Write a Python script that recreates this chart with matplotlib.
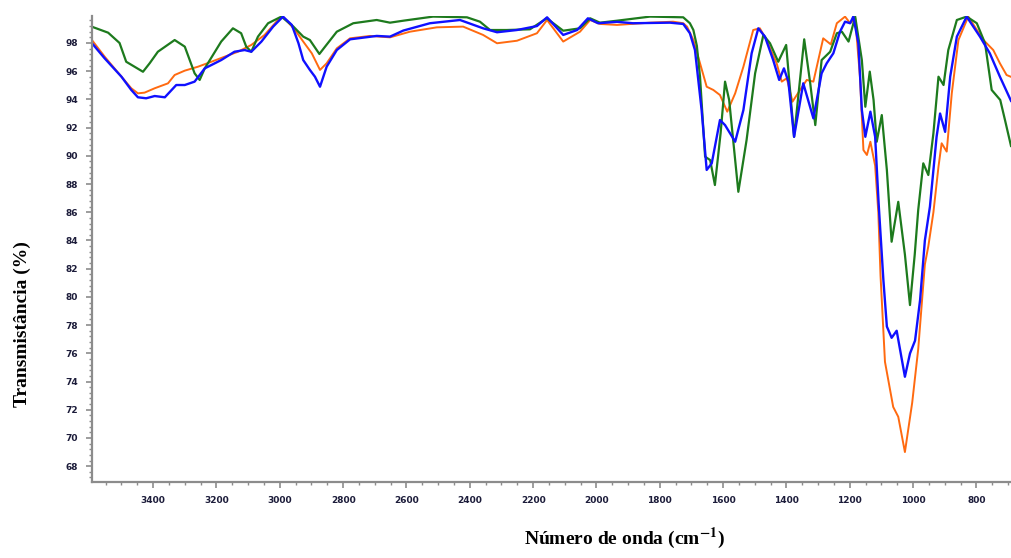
import matplotlib
matplotlib.use("Agg")
import matplotlib.pyplot as plt
from matplotlib.ticker import MultipleLocator

# wavenumber (cm-1) / transmittance (%)
wn_green = [3593, 3542, 3506, 3485, 3432, 3411, 3385, 3332, 3300, 3269, 3253, 3237,
            3185, 3148, 3122, 3106, 3090, 3069, 3037, 2995, 2957, 2926, 2905, 2875,
            2857, 2820, 2768, 2694, 2652, 2610, 2516, 2409, 2368, 2336, 2283, 2210,
            2157, 2105, 2052, 2020, 1989, 1935, 1831, 1726, 1705, 1694, 1683, 1673,
            1657, 1641, 1626, 1608, 1594, 1581, 1552, 1526, 1499, 1473, 1452, 1426,
            1401, 1376, 1344, 1325, 1309, 1289, 1262, 1241, 1225, 1204, 1183, 1162,
            1151, 1137, 1125, 1115, 1099, 1083, 1068, 1047, 1026, 1010, 995, 984,
            968, 952, 936, 920, 904, 889, 862, 831, 799, 773, 752, 725, 710, 691]
t_green = [99.15, 98.73, 98.0, 96.67, 95.96, 96.56, 97.38, 98.21, 97.74, 95.85, 95.38, 96.2,
           98.1, 99.04, 98.69, 97.74, 97.38, 98.45, 99.4, 99.87, 99.16, 98.45, 98.21, 97.22,
           97.74, 98.8, 99.4, 99.63, 99.44, 99.58, 99.87, 99.82, 99.51, 98.92, 98.92, 98.97,
           99.75, 98.87, 99.04, 99.75, 99.44, 99.58, 99.87, 99.82, 99.4, 98.92, 97.8, 95.6,
           89.94, 89.7, 87.93, 91.6, 95.26, 93.96, 87.45, 91.12, 95.85, 98.57, 97.98, 96.67,
           97.86, 91.35, 98.26, 95.14, 92.18, 96.79, 97.38, 98.69, 98.8, 98.1, 99.87, 96.79,
           93.48, 95.97, 93.96, 91.0, 92.89, 89.0, 83.91, 86.74, 83.0, 79.42, 83.0, 86.16,
           89.47, 88.64, 91.6, 95.61, 95.02, 97.5, 99.63, 99.87, 99.4, 97.98, 94.67, 93.96, 92.54, 90.7]

wn_blue = [3593, 3553, 3500, 3469, 3448, 3422, 3395, 3363, 3327, 3300, 3269, 3237,
           3185, 3143, 3111, 3090, 3058, 3021, 2990, 2962, 2941, 2926, 2905, 2889,
           2873, 2852, 2820, 2778, 2694, 2652, 2610, 2526, 2431, 2358, 2314, 2251,
           2188, 2156, 2105, 2061, 2027, 1995, 1935, 1885, 1768, 1726, 1705, 1689,
           1668, 1652, 1636, 1610, 1594, 1562, 1536, 1510, 1489, 1468, 1442, 1423,
           1408, 1394, 1376, 1347, 1315, 1289, 1273, 1252, 1231, 1215, 1199, 1189,
           1173, 1162, 1151, 1135, 1120, 1109, 1094, 1083, 1068, 1052, 1026, 1010,
           994, 978, 963, 947, 926, 915, 899, 883, 862, 831, 789, 758, 726, 691]
t_blue = [97.98, 96.91, 95.61, 94.67, 94.15, 94.08, 94.24, 94.15, 95.02, 95.02, 95.26, 96.2,
          96.79, 97.38, 97.5, 97.38, 98.1, 99.16, 99.87, 99.28, 97.98, 96.79, 96.09, 95.61,
          94.9, 96.32, 97.5, 98.26, 98.5, 98.45, 98.88, 99.4, 99.63, 99.04, 98.76, 98.92,
          99.2, 99.82, 98.57, 98.92, 99.75, 99.4, 99.5, 99.4, 99.44, 99.35, 98.69, 97.5,
          93.25, 89.0, 89.47, 92.54, 92.18, 91.0, 93.25, 97.27, 99.04, 98.45, 96.79, 95.38,
          96.2, 95.26, 91.35, 95.14, 92.66, 95.85, 96.56, 97.27, 98.8, 99.51, 99.4, 99.87,
          97.98, 93.25, 91.35, 93.13, 91.35, 86.63, 81.2, 77.9, 77.1, 77.6, 74.34, 75.99,
          76.9, 79.8, 84.0, 86.4, 91.35, 93.0, 91.7, 95.61, 98.45, 99.87, 98.45, 97.27, 95.61, 93.9]

wn_orange = [3593, 3553, 3500, 3469, 3448, 3427, 3395, 3353, 3332, 3300, 3258, 3216,
             3174, 3132, 3090, 3048, 3006, 2990, 2952, 2926, 2899, 2873, 2852, 2820,
             2778, 2715, 2652, 2589, 2504, 2421, 2358, 2314, 2251, 2188, 2156, 2105,
             2052, 2020, 1989, 1935, 1831, 1758, 1726, 1714, 1694, 1673, 1652, 1631,
             1610, 1587, 1562, 1536, 1505, 1484, 1463, 1431, 1415, 1399, 1381, 1357,
             1336, 1315, 1284, 1260, 1241, 1215, 1199, 1183, 1168, 1157, 1146, 1135,
             1120, 1110, 1103, 1089, 1063, 1047, 1026, 1003, 984, 963, 952, 936,
             920, 910, 894, 878, 857, 826, 778, 747, 726, 705, 691]
t_orange = [98.2, 97.03, 95.61, 94.79, 94.43, 94.48, 94.79, 95.14, 95.73, 96.04, 96.32, 96.67,
            97.03, 97.38, 97.86, 98.57, 99.63, 99.87, 98.92, 98.1, 97.27, 96.09, 96.56, 97.62,
            98.33, 98.5, 98.4, 98.8, 99.11, 99.16, 98.57, 97.98, 98.16, 98.69, 99.63, 98.1,
            98.8, 99.63, 99.35, 99.28, 99.44, 99.51, 99.4, 99.16, 98.21, 96.56, 94.9, 94.67,
            94.31, 93.13, 94.43, 96.32, 98.92, 99.04, 98.21, 96.56, 95.26, 95.5, 93.84, 94.67,
            95.38, 95.26, 98.33, 97.9, 99.4, 99.87, 99.4, 99.75, 95.61, 90.41, 90.06, 91.0,
            89.3, 86.0, 81.5, 75.4, 72.2, 71.5, 69.0, 72.5, 76.3, 82.3, 83.6, 86.0,
            89.23, 90.89, 90.3, 94.43, 98.21, 99.87, 98.21, 97.5, 96.56, 95.73, 95.6]

plt.rcParams['mathtext.fontset'] = 'stix'

fig = plt.figure(figsize=(10.11, 5.58), dpi=100)
ax = fig.add_axes([0.091, 0.136, 0.909, 0.835])

ax.plot(wn_orange, t_orange, color='#ff6a10', lw=1.4, solid_joinstyle='round')
ax.plot(wn_green, t_green, color='#1d7a1d', lw=1.6, solid_joinstyle='round')
ax.plot(wn_blue, t_blue, color='#1010ff', lw=1.7, solid_joinstyle='round')

ax.set_xlim(3593, 691)
ax.set_ylim(66.87, 99.9)

ax.xaxis.set_major_locator(MultipleLocator(200))
ax.xaxis.set_minor_locator(MultipleLocator(50))
ax.yaxis.set_major_locator(MultipleLocator(2))
ax.yaxis.set_minor_locator(MultipleLocator(0.4))

for s in ['top', 'right']:
    ax.spines[s].set_visible(False)
for s in ['left', 'bottom']:
    ax.spines[s].set_color('#8c8c8c')
    ax.spines[s].set_linewidth(1.6)

ax.tick_params(axis='both', which='both', color='#8c8c8c', direction='out')
ax.tick_params(axis='both', which='major', length=4, width=1.2,
               labelsize=6.5, labelcolor='#1c1c3a', pad=6)
ax.tick_params(axis='both', which='minor', length=2.5, width=1.0)
for lbl in ax.get_xticklabels() + ax.get_yticklabels():
    lbl.set_fontweight('bold')

fig.text(0.022, 0.42, 'Transmistância (%)', rotation=90, ha='center', va='center',
         family='Liberation Serif', fontweight='bold', fontsize=14)
fig.text(0.618, 0.035, r'Número de onda (cm$^{\mathbf{-1}}$)', ha='center', va='center',
         family='Liberation Serif', fontweight='bold', fontsize=14)

fig.savefig('out.png', dpi=100)
